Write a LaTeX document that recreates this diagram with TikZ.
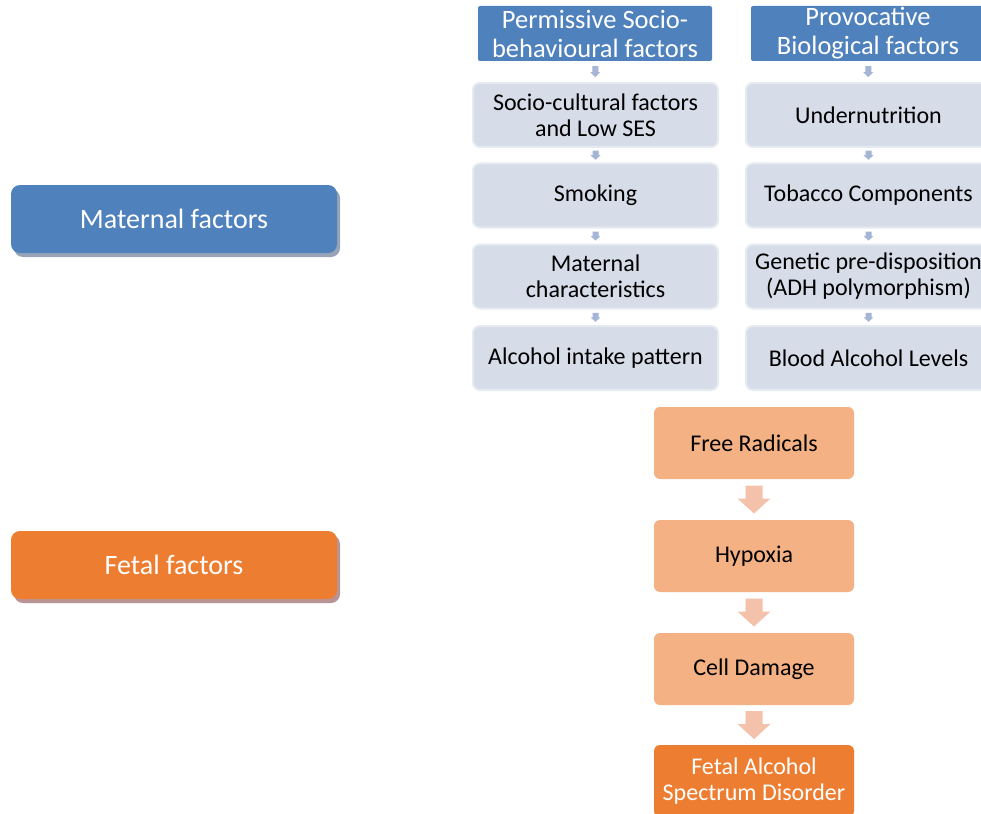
\documentclass[tikz,border=0pt]{standalone}
\usepackage{fontspec}
\setmainfont{Carlito}
\usetikzlibrary{calc,shadows}
\definecolor{hdrblue}{HTML}{4F81BD}
\definecolor{sideorange}{HTML}{ED7D31}
\definecolor{lightbox}{HTML}{D6DCE8}
\definecolor{lightedge}{HTML}{E6EAF1}
\definecolor{smallarrow}{HTML}{A5B5D5}
\definecolor{peach}{HTML}{F4B183}
\definecolor{peacharrow}{HTML}{F4C2AA}
\definecolor{blueshadow}{HTML}{97A3B6}
\definecolor{orangeshadow}{HTML}{B99494}
\newcommand{\flowarrow}[7]{%
  \coordinate (m) at ($(#1.south)!0.5!(#2.north)$);
  \fill[#7] ($(m)+(-#4,-#3)$) -- ($(m)+(#4,-#3)$) -- ($(m)+(#4,#3-#6)$)
    -- ($(m)+(#5,#3-#6)$) -- ($(m)+(0,#3)$) -- ($(m)+(-#5,#3-#6)$)
    -- ($(m)+(-#4,#3-#6)$) -- cycle;}
\tikzset{
  sidebox/.style={rectangle, rounded corners=9pt, minimum width=326pt, minimum height=68pt,
    text=white, font=\fontsize{28}{32}\selectfont, inner sep=0pt},
  hdrbox/.style={rectangle, rounded corners=2pt, fill=hdrblue, minimum width=234pt,
    minimum height=55pt, text=white, align=center, inner sep=0pt,
    font=\fontsize{26.5}{29}\selectfont},
  lbox/.style={rectangle, rounded corners=7pt, fill=lightbox, draw=lightedge, line width=2pt,
    minimum width=245pt, minimum height=64pt, align=center, inner sep=0pt,
    font=\fontsize{24}{26}\selectfont},
  obox/.style={rectangle, rounded corners=6pt, fill=peach, minimum width=200pt,
    minimum height=72pt, align=center, inner sep=0pt, font=\fontsize{24}{26}\selectfont},
}
\begin{document}
\begin{tikzpicture}[x=1pt,y=-1pt]
\clip (0,0) rectangle (981,813);
\fill[white] (0,0) rectangle (981,813);
% side labels
\node[sidebox, fill=hdrblue, drop shadow={shadow xshift=3pt, shadow yshift=-4pt, fill=blueshadow, opacity=1}]
  (mat) at (174,219) {Maternal factors};
\node[sidebox, fill=sideorange, drop shadow={shadow xshift=3pt, shadow yshift=-4pt, fill=orangeshadow, opacity=1}]
  (fet) at (174,565) {Fetal factors};
% left column
\node[hdrbox] (h1) at (595,33.5) {Permissive Socio-\\behavioural factors};
\node[lbox] (l1) at (595.5,115) {Socio-cultural factors\\and Low SES};
\node[lbox] (l2) at (595.5,195.5) {Smoking};
\node[lbox] (l3) at (595.5,276.5) {Maternal\\characteristics};
\node[lbox] (l4) at (595.5,358) {Alcohol intake pattern};
% right column
\node[hdrbox] (h2) at (868,33.5) {Provocative\\Biological factors};
\node[lbox] (r1) at (868.5,115) {Undernutrition};
\node[lbox] (r2) at (868.5,195.5) {Tobacco Components};
\node[lbox] (r3) at (868.5,276.5) {Genetic pre-disposition\\(ADH polymorphism)};
\node[lbox] (r4) at (868.5,358) {Blood Alcohol Levels};
% small arrows
\flowarrow{h1}{l1}{5.5}{3}{5}{5}{smallarrow}
\flowarrow{l1}{l2}{4.5}{3}{5}{4.5}{smallarrow}
\flowarrow{l2}{l3}{4.5}{3}{5}{4.5}{smallarrow}
\flowarrow{l3}{l4}{4.5}{3}{5}{4.5}{smallarrow}
\flowarrow{h2}{r1}{5.5}{3}{5}{5}{smallarrow}
\flowarrow{r1}{r2}{4.5}{3}{5}{4.5}{smallarrow}
\flowarrow{r2}{r3}{4.5}{3}{5}{4.5}{smallarrow}
\flowarrow{r3}{r4}{4.5}{3}{5}{4.5}{smallarrow}
% fetal chain
\node[obox] (o1) at (754,443) {Free Radicals};
\node[obox] (o2) at (754,556) {Hypoxia};
\node[obox] (o3) at (754,669) {Cell Damage};
\node[obox, fill=sideorange, text=white] (o4) at (754,781) {Fetal Alcohol\\Spectrum Disorder};
\flowarrow{o1}{o2}{14}{8.5}{16.5}{15}{peacharrow}
\flowarrow{o2}{o3}{14}{8.5}{16.5}{15}{peacharrow}
\flowarrow{o3}{o4}{14}{8.5}{16.5}{15}{peacharrow}
\end{tikzpicture}
\end{document}
